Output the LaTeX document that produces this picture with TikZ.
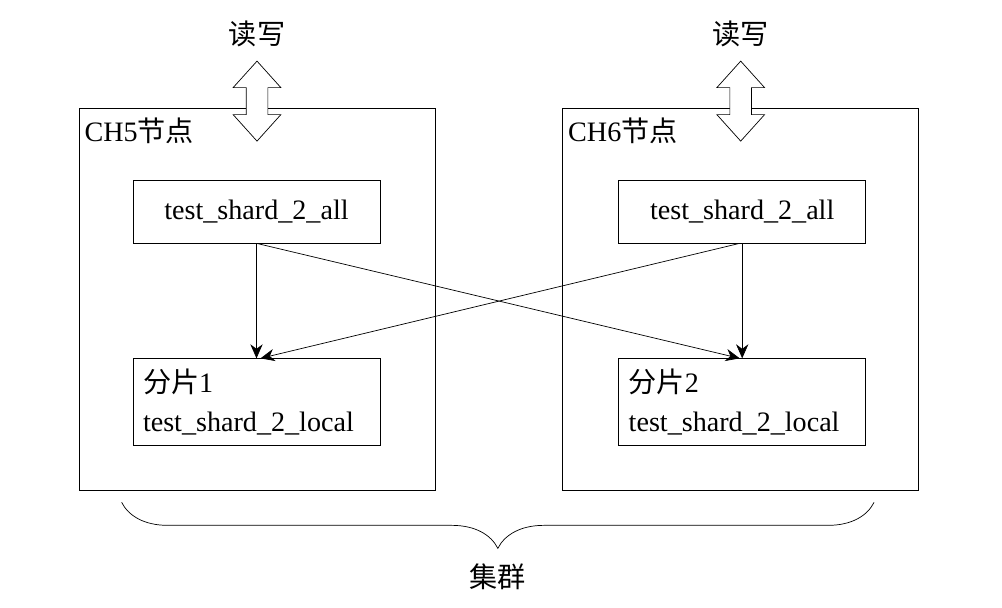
\documentclass[tikz,border=0pt]{standalone}
\usepackage{fontspec}
\setmainfont{Liberation Serif}
\newfontfamily\cjk{Noto Sans CJK SC}
\usetikzlibrary{positioning, calc, arrows.meta, shapes.arrows, decorations.pathreplacing}
\tikzset{
>={Stealth[length=8pt, width=7pt]}, % filled arrow heads
line width=0.9pt,
every node/.style={font=\fontsize{16}{22}\selectfont},
host/.style={draw, minimum width=7.12cm, minimum height=7.64cm}, % the CH nodes
table/.style={draw, minimum width=4.94cm, minimum height=1.26cm}, % distributed table
shard/.style={draw, minimum width=4.94cm, minimum height=1.74cm, align=left, text width=4.54cm, inner xsep=0.2cm}, % local table
rw/.style={draw, fill=white, double arrow, shape border rotate=90, minimum height=1.6cm, double arrow head extend=0.26cm, double arrow tip angle=84, inner sep=0.21cm}, % read/write arrow
}

\begin{document}
\begin{tikzpicture}
    \useasboundingbox (0,0) rectangle (20.04,12.16);
    \node[host] (ch5) at (5.14,6.18) {};
    \node[host, right=2.54cm of ch5] (ch6) {};
    \node[below right=0.12cm and 0.04cm of ch5.north west, anchor=north west, inner sep=2pt] (name5) {CH5\cjk 节点};
    \node[below right=0.12cm and 0.04cm of ch6.north west, anchor=north west, inner sep=2pt] (name6) {CH6\cjk 节点};
    \node[table] (all5) at (5.13,7.93) {test\_shard\_2\_all};
    \node[table, right=4.76cm of all5] (all6) {test\_shard\_2\_all};
    \node[shard, below=2.3cm of all5] (loc5) {{\cjk 分片}1\\test\_shard\_2\_local};
    \node[shard, below=2.3cm of all6] (loc6) {{\cjk 分片}2\\test\_shard\_2\_local};
    % read / write
    \node[rw, above=-0.68cm of ch5.north] (rw5) {};
    \node[rw, above=-0.68cm of ch6.north] (rw6) {};
    \node[above=0.15cm of rw5] (io5) {\cjk 读写};
    \node[above=0.15cm of rw6] (io6) {\cjk 读写};
    \draw[->] (all5.south) -- (loc5.north);
    \draw[->] (all6.south) -- (loc6.north);
    \draw[->] (all5.south) -- ([xshift=-0.05cm]loc6.north);
    \draw[->] ([xshift=-0.05cm]all6.south) -- ([xshift=0.08cm]loc5.north);
    % cluster brace
    \coordinate[below right=0.24cm and 0.86cm of ch5.south west] (b1);
    \coordinate[below left=0.24cm and 0.9cm of ch6.south east] (b2);
    \draw[decorate, decoration={brace, mirror, amplitude=0.92cm}] (b1) -- (b2);
    \node[below=1.1cm of $(b1)!0.5!(b2)$] (cluster) {\cjk 集群};
\end{tikzpicture}
\end{document}
